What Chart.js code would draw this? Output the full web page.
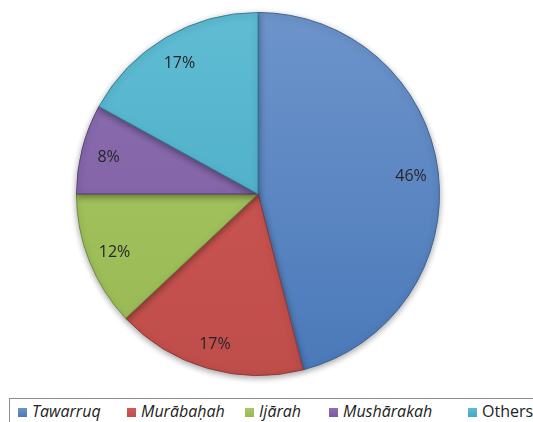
<!DOCTYPE html>
<html>
<head>
<meta charset="utf-8">
<script src="https://cdn.jsdelivr.net/npm/chart.js@4/dist/chart.umd.min.js"></script>
<style>
  html, body { margin: 0; padding: 0; background: #fff; }
  #wrap { position: relative; width: 533px; height: 422px; overflow: hidden; }
  #box { position: absolute; left: 0; top: 0; width: 533px; height: 390px; }
  #legend { position: absolute; left: 9px; top: 398px; width: 560px; height: 40px;
    border: 1px solid #8c8c8c; font-family: "Open Sans", sans-serif; font-size: 16px; color: #222; }
  #legend span.it { position: absolute; top: 1px; white-space: nowrap; }
  #legend i.mk { display: inline-block; width: 9px; height: 9px; margin-right: 5px; vertical-align: 0px; }
</style>
</head>
<body>
<div id="wrap">
  <div id="box"><canvas id="pie"></canvas></div>
  <div id="legend"></div>
</div>
<script>
// data
var labels = ["Tawarruq", "Murābaḥah", "Ijārah", "Mushārakah", "Others"];
var shares = [46, 17, 12, 8, 17];
var italic = [true, true, true, true, false];

var topColors = ["#6d94cb", "#d05a56", "#a9c966", "#8d6fb2", "#5fbcd3"];
var baseColors = ["#4a79b9", "#bf4d4a", "#97b852", "#7a5b9f", "#45a8c3"];
var edgeColors = ["#3c6294", "#8f3a38", "#71893e", "#5c4577", "#33809a"];

// legend (html)
var legendX = [8, 117, 235, 319, 458];
var lg = document.getElementById('legend');
labels.forEach(function(l, i){
  var s = document.createElement('span');
  s.className = 'it';
  s.style.left = legendX[i] + 'px';
  s.style.fontStyle = italic[i] ? 'italic' : 'normal';
  var m = document.createElement('i');
  m.className = 'mk';
  m.style.background = 'linear-gradient(' + topColors[i] + ',' + baseColors[i] + ')';
  s.appendChild(m);
  s.appendChild(document.createTextNode(l));
  lg.appendChild(s);
});

var shadowPlugin = {
  id: 'shadow',
  beforeDatasetsDraw: function(chart){
    var c = chart.ctx;
    c.save();
    c.shadowColor = 'rgba(0,0,0,0.35)';
    c.shadowBlur = 6;
    c.shadowOffsetY = 2;
  },
  afterDatasetsDraw: function(chart){
    chart.ctx.restore();
  }
};

var pctPlugin = {
  id: 'pct',
  afterDraw: function(chart){
    var c = chart.ctx;
    var meta = chart.getDatasetMeta(0);
    c.save();
    c.font = '16px "Open Sans", sans-serif';
    c.fillStyle = '#262626';
    c.textAlign = 'center';
    c.textBaseline = 'middle';
    meta.data.forEach(function(arc, i){
      var p = arc.getProps(['x','y','startAngle','endAngle','outerRadius'], true);
      var a = (p.startAngle + p.endAngle) / 2;
      var r = p.outerRadius * 0.85;
      c.fillText(shares[i] + '%', p.x + Math.cos(a) * r, p.y + Math.sin(a) * r + 2);
    });
    c.restore();
  }
};

var ctx = document.getElementById('pie').getContext('2d');
var chart = new Chart(ctx, {
  type: 'pie',
  data: {
    labels: labels,
    datasets: [{
      data: shares,
      backgroundColor: function(context){
        var i = context.dataIndex;
        var area = context.chart.chartArea;
        if (!area) return baseColors[i];
        var g = context.chart.ctx.createLinearGradient(0, area.top, 0, area.bottom);
        g.addColorStop(0, topColors[i]);
        g.addColorStop(1, baseColors[i]);
        return g;
      },
      borderColor: edgeColors,
      borderWidth: 1
    }]
  },
  options: {
    responsive: true,
    maintainAspectRatio: false,
    animation: false,
    layout: { padding: { top: 12, bottom: 14, left: 0, right: 17 } },
    plugins: {
      legend: { display: false },
      tooltip: { enabled: false }
    }
  },
  plugins: [shadowPlugin, pctPlugin]
});
</script>
</body>
</html>
